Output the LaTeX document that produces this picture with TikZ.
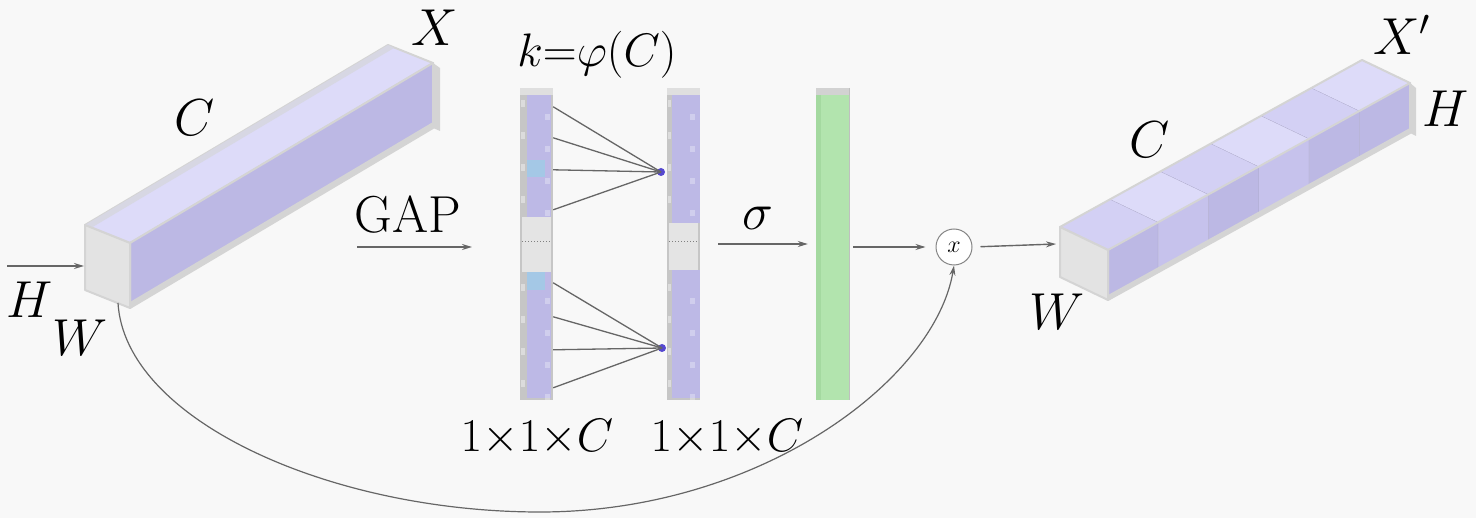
\RequirePackage{fix-cm}
\documentclass[tikz,border=0pt]{standalone}
\usetikzlibrary{arrows.meta}
\definecolor{bg}{HTML}{F8F8F8}
\definecolor{frontgrey}{HTML}{E3E3E3}
\definecolor{edgegrey}{HTML}{D4D4D4}
\definecolor{lavtop}{HTML}{DDDBF9}
\definecolor{lavtopb}{HTML}{D3D0F4}
\definecolor{lavside}{HTML}{BCB8E4}
\definecolor{lavsideb}{HTML}{C6C2EC}
\definecolor{colgrey}{HTML}{C6C6C6}
\definecolor{collav}{HTML}{BDB9E6}
\definecolor{colblue}{HTML}{A4C8E6}
\definecolor{gapgrey}{HTML}{E4E4E4}
\definecolor{greenA}{HTML}{B2E4AE}
\definecolor{greenB}{HTML}{A4D9A0}
\definecolor{arrowgrey}{HTML}{666666}
\definecolor{dotblue}{HTML}{5548D0}
\begin{document}
\begin{tikzpicture}[x=1pt,y=-1pt,
 lab/.style={font=\fontsize{52}{56}\selectfont, inner sep=0pt},
 dimlab/.style={font=\fontsize{47}{50}\selectfont, inner sep=0pt},
 conn/.style={draw=arrowgrey, line width=1.4pt, -{Stealth[length=10pt,width=6pt]}},
 wire/.style={draw=arrowgrey, line width=1.3pt},
 face/.style={draw=edgegrey, line width=2pt, line join=round},
 colnode/.style={inner sep=0pt, minimum width=33pt, minimum height=312pt},
]
\fill[bg] (0,0) rectangle (1476,518);
\useasboundingbox (0,0) rectangle (1476,518);

% ---------- left cuboid X ----------
\filldraw[face, fill=lavtop] (85,225) -- (130,243) -- (433,63) -- (388,45) -- cycle;
\fill[edgegrey!60!lavtop] (85,225) -- (388,45) -- (394,48) -- (91,228) -- cycle;
\filldraw[face, fill=lavside] (130,243) -- (130,308) -- (433,128) -- (433,63) -- cycle;
\fill[edgegrey] (130,302) -- (130,308) -- (433,128) -- (433,122) -- cycle;
\fill[edgegrey] (433,63) -- (440,68) -- (440,131) -- (433,128) -- cycle;
\filldraw[face, fill=frontgrey] (85,225) -- (130,243) -- (130,308) -- (85,290) -- cycle;
\coordinate (boxin) at (84,266);
\coordinate (boxout) at (118,303);

% ---------- right cuboid X' ----------
\foreach \i/\ct/\cs in {0/lavtopb/lavside,1/lavtop/lavsideb,2/lavtopb/lavside,3/lavtop/lavsideb,4/lavtopb/lavside,5/lavtop/lavside}{
  \begin{scope}[shift={(\i*50.33,\i*-27.83)}]
    \fill[\ct] (1060,227) -- (1108,250) -- (1158.33,222.17) -- (1110.33,199.17) -- cycle;
    \fill[\cs] (1108,250) -- (1108,300) -- (1158.33,272.17) -- (1158.33,222.17) -- cycle;
    \draw[lavside!70!gray, line width=0.8pt] (1110.33,199.17) -- (1158.33,222.17) -- (1158.33,272.17);
  \end{scope}
}
\draw[face, fill=none] (1060,227) -- (1108,250) -- (1410,83) -- (1362,60) -- cycle;
\draw[face, fill=none] (1108,250) -- (1108,300) -- (1410,133) -- (1410,83);
\fill[edgegrey] (1108,295) -- (1108,300) -- (1410,133) -- (1410,128) -- cycle;
\fill[edgegrey] (1410,83) -- (1416,88) -- (1416,136) -- (1410,133) -- cycle;
\filldraw[face, fill=frontgrey] (1060,227) -- (1108,250) -- (1108,300) -- (1060,277) -- cycle;
\coordinate (outin) at (1056,244);

% ---------- column 1 ----------
\node[colnode, fill=colgrey] (col1) at (536.5,244) {};
\fill[collav] (527,95) rectangle (551,217);
\fill[collav] (527,272) rectangle (551,398);
\fill[gapgrey] (522,217) rectangle (551,272);
\fill[colblue] (527,160) rectangle (545,177);
\fill[colblue] (527,272) rectangle (545,290);
\fill[gray!25] (520,88) rectangle (553,95);
\foreach \y in {100,132,164,196,284,316,348,380}{
  \fill[white,opacity=.4] (521,\y) rectangle (525,\y+7);
  \fill[white,opacity=.3] (545,\y+14) rectangle (550,\y+20);
}
\draw[dotted, line width=1pt, gray] (522,242) -- (551,242);

% ---------- column 2 ----------
\node[colnode, fill=colgrey] (col2) at (683.5,244) {};
\fill[collav] (672,95) rectangle (700,223);
\fill[collav] (672,270) rectangle (700,398);
\fill[gapgrey] (669,223) rectangle (698,270);
\fill[gray!25] (667,88) rectangle (700,95);
\foreach \y in {100,132,164,196,284,316,348,380}{
  \fill[white,opacity=.4] (668,\y) rectangle (671,\y+7);
  \fill[white,opacity=.3] (690,\y+14) rectangle (695,\y+20);
}
\draw[dotted, line width=1pt, gray] (669,242) -- (698,242);

% ---------- fan connections ----------
\node[circle, fill=dotblue, inner sep=0pt, minimum size=8pt] (dot1) at (661,172) {};
\node[circle, fill=dotblue, inner sep=0pt, minimum size=8pt] (dot2) at (662,348) {};
\foreach \dy in {19,50,82,122}{
  \draw[wire] ([yshift=-\dy pt]col1.north east) -- (dot1.center);
}
\foreach \dy in {195,229,262,300}{
  \draw[wire] ([yshift=-\dy pt]col1.north east) -- (dot2.center);
}

% ---------- sigmoid bar ----------
\node[colnode, fill=greenA] (sig) at (832.5,244) {};
\fill[greenB] (816,95) rectangle (821,400);
\fill[gray!35] (816,88) rectangle (849,95);
\draw[gray!50, line width=1pt] (849,88) -- (849,400);

% ---------- multiply ----------
\node[circle, draw=arrowgrey!80, line width=1pt, fill=white, minimum size=36pt, inner sep=0pt,
      font=\fontsize{24}{26}\selectfont] (mul) at (954,247) {$x$};

% ---------- connectors ----------
\coordinate (inp) at (7,266);
\draw[conn] (inp) -- (boxin);
\coordinate (g0) at (357,247);
\coordinate (g1) at (472,247);
\draw[conn] (g0) -- (g1);
\coordinate (s0) at (718,244);
\draw[conn, shorten >=8pt] (s0) -- (s0 -| sig.west);
\draw[conn, shorten <=4pt, shorten >=10pt] (sig.east |- mul.west) -- (mul.west);
\draw[conn, shorten <=8pt] (mul.east) -- (outin);
\draw[draw=arrowgrey, line width=1.2pt, -{Stealth[length=10pt,width=6pt]}]
  (boxout) .. controls (125,420) and (330,512) .. (540,512)
  .. controls (760,512) and (935,380) .. (mul.south);

% ---------- labels ----------
\node[lab] (lX) at (435,28) {$X$};
\node[lab] (lC) at (195,118) {$C$};
\node[lab] (lH) at (30,300) {$H$};
\node[lab] (lW) at (80,338) {$W$};
\node[lab] (gap) at (408,215) {GAP};
\node[dimlab] (kphi) at (597,55) {$k{=}\varphi(C)$};
\node[dimlab] (dim1) at (537,437) {$1{\times}1{\times}C$};
\node[dimlab] (dim2) at (727,437) {$1{\times}1{\times}C$};
\node[lab] (sigma) at (758,218) {$\sigma$};
\node[lab] (rX) at (1402,35) {$X'$};
\node[lab] (rH) at (1446,109) {$H$};
\node[lab] (rC) at (1150,140) {$C$};
\node[lab] (rW) at (1057,312) {$W$};
\end{tikzpicture}
\end{document}
